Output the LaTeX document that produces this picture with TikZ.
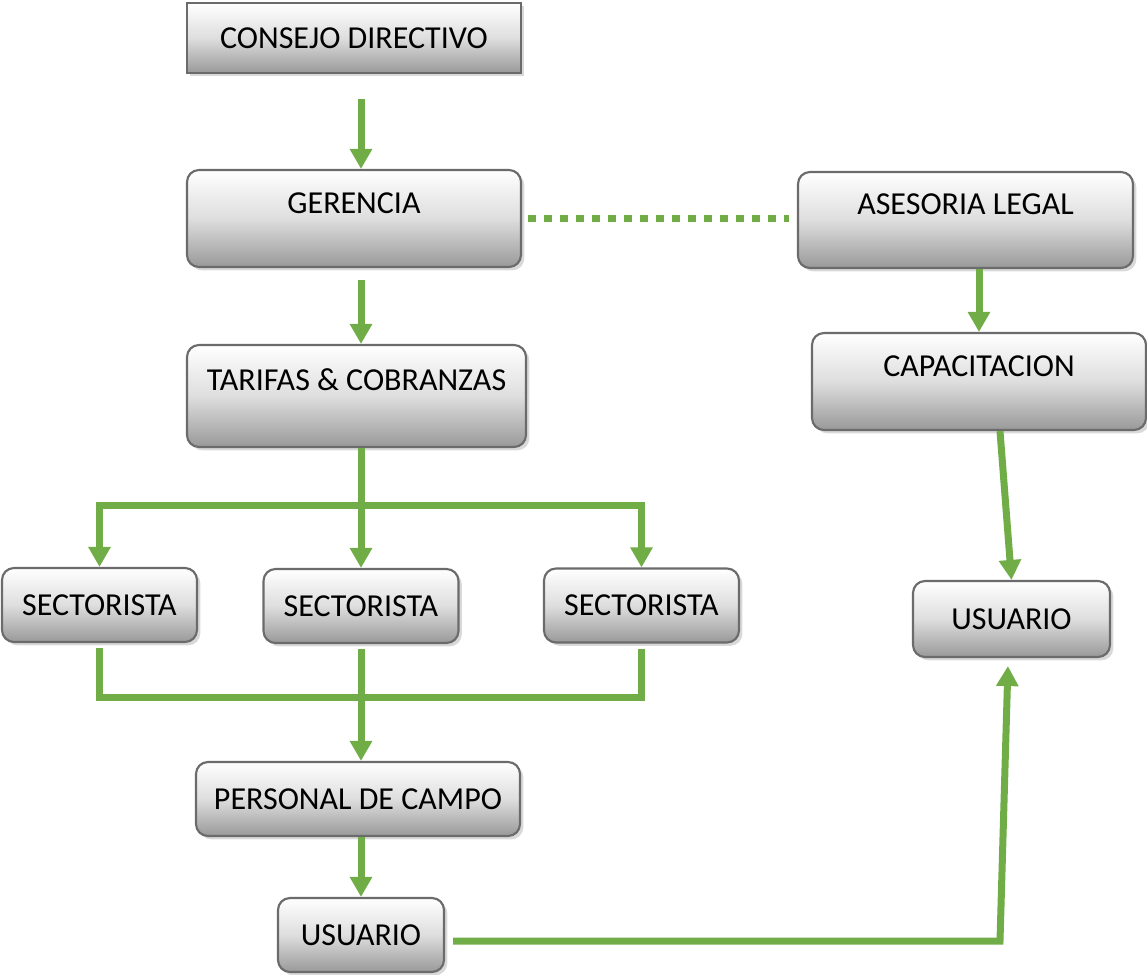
\documentclass[tikz,border=0pt]{standalone}
\usepackage{fontspec}
\setmainfont{Carlito}
\usetikzlibrary{arrows.meta,shadows}
\definecolor{orggreen}{HTML}{70AD47}
\definecolor{boxedge}{HTML}{6B6B6B}
\tikzset{
    box/.style={draw=boxedge, line width=1.6pt, top color=white, bottom color=black!40, middle color=black!13, inner sep=0pt, font=\fontsize{24}{28}\selectfont, drop shadow={opacity=0.3, shadow xshift=2.5pt, shadow yshift=-2.5pt}},
    roundbox/.style={box, rounded corners=9pt},
    tallbox/.style={roundbox, text height=15.5pt, text depth=23.5pt},
    % connector styles
    link/.style={draw=orggreen, line width=5.25pt},
    arr/.style={link, -{Triangle[width=16pt,length=15pt]}},
    dots/.style={draw=orggreen, line width=5.5pt, dash pattern=on 6pt off 6pt}
}
\begin{document}
\begin{tikzpicture}[x=0.75pt, y=-0.75pt]
\useasboundingbox (0,0) rectangle (1147,975);

% Left column
\node[box, minimum width=250.5pt, minimum height=52.5pt] (consejo) at (354,38) {CONSEJO DIRECTIVO};
\node[tallbox, minimum width=250.5pt, minimum height=72.75pt] (gerencia) at (354,218.5) {GERENCIA};
\node[tallbox, minimum width=254.25pt, minimum height=76.5pt] (tarifas) at (356.5,396) {TARIFAS \& COBRANZAS};

% Sectoristas
\node[roundbox, minimum width=146.25pt, minimum height=55.5pt] (sect1) at (99.5,605) {SECTORISTA};
\node[roundbox, minimum width=146.25pt, minimum height=55.5pt] (sect2) at (361,606) {SECTORISTA};
\node[roundbox, minimum width=146.25pt, minimum height=55.5pt] (sect3) at (641.5,605.5) {SECTORISTA};

\node[roundbox, minimum width=243pt, minimum height=55.5pt] (personal) at (358,799) {PERSONAL DE CAMPO};
\node[roundbox, minimum width=124.5pt, minimum height=55.5pt] (usuario1) at (361,935) {USUARIO};

% Right column
\node[tallbox, minimum width=251.25pt, minimum height=72pt] (asesoria) at (965.5,220) {ASESORIA LEGAL};
\node[tallbox, minimum width=250.5pt, minimum height=72.75pt] (capacitacion) at (979,381.5) {CAPACITACION};
\node[roundbox, minimum width=147.75pt, minimum height=57pt] (usuario2) at (1011.5,619) {USUARIO};

% Helper points
\coordinate (trunk) at (361,0);
\coordinate (split) at (361,505);
\coordinate (join) at (361,697);
\coordinate (turn) at (1000,941);

% Connections
\draw[arr, shorten <=18.75pt] (consejo.south -| trunk) -- (gerencia.north -| trunk);
\draw[arr, shorten <=9pt] (gerencia.south -| trunk) -- (tarifas.north -| trunk);
\draw[dots, shorten <=4.5pt, shorten >=6pt] (gerencia.east) -- (gerencia.east -| asesoria.west);
\draw[arr] (capacitacion.north |- asesoria.south) -- (capacitacion.north);

% Tarifas to sectoristas
\draw[arr] (tarifas.south -| trunk) -- (sect2.north);
\draw[arr] (split) -| (sect1.north);
\draw[arr] (split) -| (sect3.north);

% Sectoristas to personal de campo
\draw[link, shorten <=4pt] (sect1.south) |- (join);
\draw[link, shorten <=4pt] (sect3.south) |- (join);
\draw[arr, shorten <=4pt] (sect2.south) -- (personal.north -| trunk);
\draw[arr] (personal.south -| trunk) -- (usuario1.north);

% Right side
\draw[arr] ([xshift=15.75pt]capacitacion.south) -- (usuario2.north);
\draw[arr, shorten <=6pt, shorten >=6pt] (usuario1.east |- turn) -- (turn) -- ([xshift=-2.5pt]usuario2.south);
\end{tikzpicture}
\end{document}
